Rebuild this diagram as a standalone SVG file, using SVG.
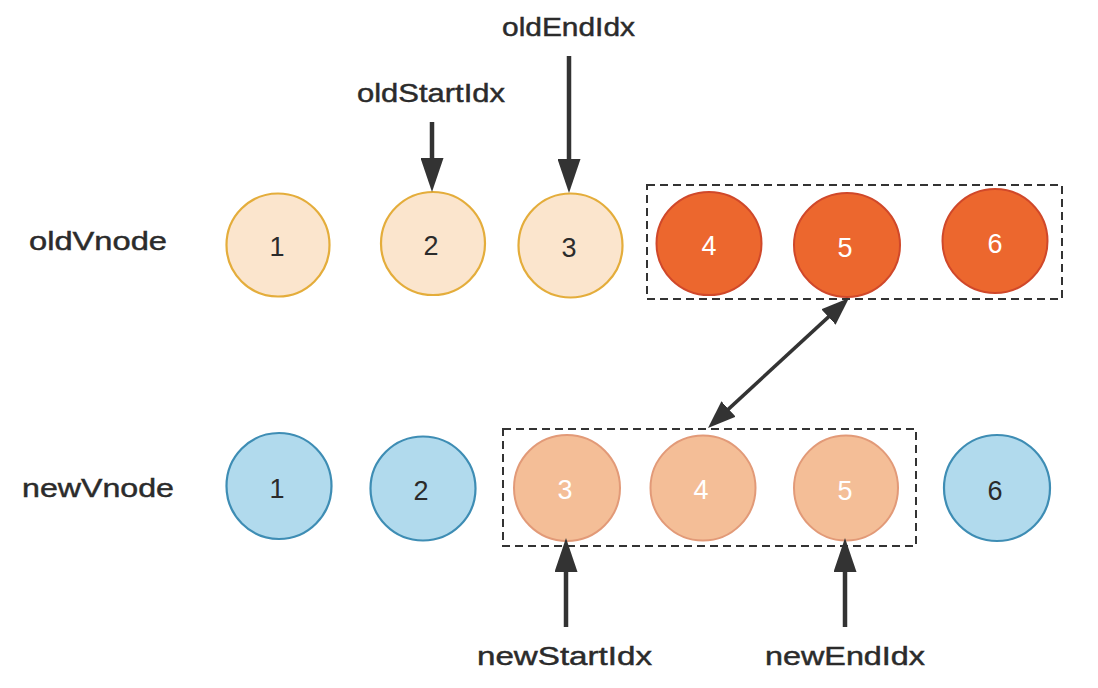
<svg xmlns="http://www.w3.org/2000/svg" width="1098" height="688" viewBox="0 0 1098 688">
<style>
  .lbl{font-family:"Liberation Sans",Arial,Helvetica,sans-serif;font-size:26px;fill:#2b2b2b;stroke:#2b2b2b;stroke-width:0.45;}
  .num{font-family:"Liberation Sans",Arial,Helvetica,sans-serif;font-size:27px;text-anchor:middle;fill:#2b2b2b;}
  .wnum{fill:#ffffff;}
  .oldL{fill:#fbe5cd;stroke:#e4ad3b;stroke-width:2.2;}
  .oldD{fill:#ec672e;stroke:#d0482a;stroke-width:2;}
  .newP{fill:#f4be97;stroke:#e29a78;stroke-width:2;}
  .newB{fill:#b1daed;stroke:#3e8db4;stroke-width:2.2;}
  .dash{fill:none;stroke:#333;stroke-width:2;stroke-dasharray:8 5;}
  .ptr{stroke:#333;stroke-width:4.5;fill:none;}
  .dbl{stroke:#333;stroke-width:3.5;fill:none;}
</style>
<defs>
  <marker id="head" viewBox="0 0 34 23" refX="2" refY="11.5" markerWidth="34" markerHeight="23" markerUnits="userSpaceOnUse" orient="auto">
    <path d="M0,0 L34,11.5 L0,23 z" fill="#333"/>
  </marker>
  <marker id="head2" viewBox="0 0 28 21" refX="2" refY="10.5" markerWidth="28" markerHeight="21" markerUnits="userSpaceOnUse" orient="auto-start-reverse">
    <path d="M0,0 L28,10.5 L0,21 z" fill="#333"/>
  </marker>
</defs>
<rect width="1098" height="688" fill="#ffffff"/>

<g id="labels">
  <text class="lbl" x="29" y="250" textLength="138" lengthAdjust="spacingAndGlyphs">oldVnode</text>
  <text class="lbl" x="22" y="497" textLength="152" lengthAdjust="spacingAndGlyphs">newVnode</text>
  <text class="lbl" x="502" y="36" textLength="133" lengthAdjust="spacingAndGlyphs">oldEndIdx</text>
  <text class="lbl" x="357" y="102" textLength="148" lengthAdjust="spacingAndGlyphs">oldStartIdx</text>
  <text class="lbl" x="477" y="665" textLength="175" lengthAdjust="spacingAndGlyphs">newStartIdx</text>
  <text class="lbl" x="765" y="665" textLength="160" lengthAdjust="spacingAndGlyphs">newEndIdx</text>
</g>

<g id="boxes">
  <rect class="dash" x="647" y="185" width="415" height="114"/>
  <rect class="dash" x="503" y="429" width="413" height="117"/>
</g>

<g id="old-1"><ellipse class="oldL" cx="278" cy="245" rx="51.5" ry="51.5"/><text class="num" x="277" y="256">1</text></g>
<g id="old-2"><ellipse class="oldL" cx="433" cy="243.5" rx="52" ry="51.5"/><text class="num" x="431" y="255">2</text></g>
<g id="old-3"><ellipse class="oldL" cx="570.5" cy="245.5" rx="52" ry="52"/><text class="num" x="569" y="257">3</text></g>
<g id="old-4"><ellipse class="oldD" cx="709" cy="243.5" rx="52.5" ry="51.5"/><text class="num wnum" x="709" y="255">4</text></g>
<g id="old-5"><ellipse class="oldD" cx="847" cy="245" rx="53" ry="52"/><text class="num wnum" x="845" y="257">5</text></g>
<g id="old-6"><ellipse class="oldD" cx="995" cy="241" rx="52.5" ry="52"/><text class="num wnum" x="995" y="253">6</text></g>

<g id="new-1"><ellipse class="newB" cx="279" cy="486" rx="52.5" ry="53"/><text class="num" x="277" y="498">1</text></g>
<g id="new-2"><ellipse class="newB" cx="423" cy="488.5" rx="52.5" ry="52"/><text class="num" x="421" y="500">2</text></g>
<g id="new-3"><ellipse class="newP" cx="567" cy="488" rx="53" ry="53"/><text class="num wnum" x="565" y="499">3</text></g>
<g id="new-4"><ellipse class="newP" cx="703" cy="488" rx="52.5" ry="52.5"/><text class="num wnum" x="701" y="499">4</text></g>
<g id="new-5"><ellipse class="newP" cx="846" cy="488" rx="52" ry="52.5"/><text class="num wnum" x="845" y="500">5</text></g>
<g id="new-6"><ellipse class="newB" cx="997" cy="488" rx="53" ry="53"/><text class="num" x="995" y="500">6</text></g>

<g id="connectors">
  <line class="ptr" x1="432" y1="122" x2="432" y2="160" marker-end="url(#head)"/>
  <line class="ptr" x1="569" y1="56" x2="569" y2="161" marker-end="url(#head)"/>
  <line class="ptr" x1="566" y1="627" x2="566" y2="570" marker-end="url(#head)"/>
  <line class="ptr" x1="845" y1="627" x2="845" y2="570" marker-end="url(#head)"/>
  <line class="dbl" x1="829.9" y1="315.6" x2="727.1" y2="410.4" marker-start="url(#head2)" marker-end="url(#head2)"/>
</g>
</svg>
